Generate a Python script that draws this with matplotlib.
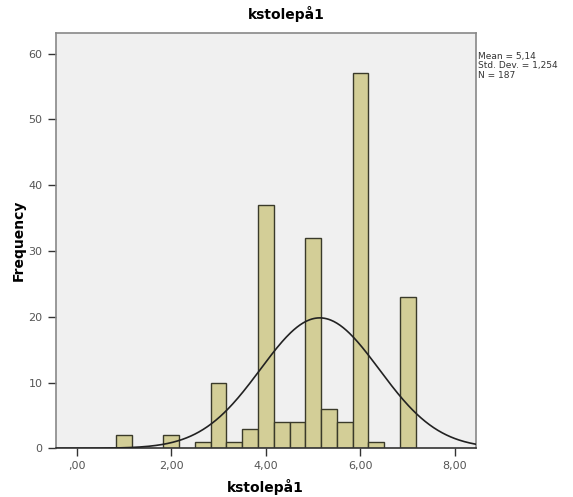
import numpy as np
import matplotlib
matplotlib.use("Agg")
import matplotlib.pyplot as plt

# histogram of kstolepå1 (bin width 1/3)
bin_centers = [1.0, 2.0, 2.6667, 3.0, 3.3333, 3.6667, 4.0, 4.3333, 4.6667,
               5.0, 5.3333, 5.6667, 6.0, 6.3333, 7.0]
counts = [2, 2, 1, 10, 1, 3, 37, 4, 4, 32, 6, 4, 57, 1, 23]
bin_width = 1 / 3
mean, sd, n = 5.14, 1.254, 187
xticks = [0, 2, 4, 6, 8]
xtick_labels = [",00", "2,00", "4,00", "6,00", "8,00"]
yticks = [0, 10, 20, 30, 40, 50, 60]

fig = plt.figure(figsize=(5.73, 4.97), dpi=100)
W, H = 573, 497
ax = fig.add_axes([55.7 / W, 1 - 448.3 / H, (475.7 - 55.7) / W, (448.3 - 33.3) / H])
ax.set_facecolor("#f0f0f0")

ax.bar(bin_centers, counts, width=bin_width, color="#d3ce97",
       edgecolor="#3a3a2a", linewidth=1.0, zorder=2)

xs = np.linspace(-0.44, 8.44, 400)
pdf = n * bin_width / (sd * np.sqrt(2 * np.pi)) * np.exp(-0.5 * ((xs - mean) / sd) ** 2)
ax.plot(xs, pdf, color="#222222", linewidth=1.2, zorder=3)

ax.set_xlim(-0.444, 8.437)
ax.set_ylim(0, 63.1)
ax.set_xticks(xticks)
ax.set_xticklabels(xtick_labels)
ax.set_yticks(yticks)
ax.tick_params(axis="both", direction="out", length=6, width=1, colors="#333333",
               labelcolor="#555555", labelsize=8)
for side in ["top", "right", "left"]:
    ax.spines[side].set_color("#888888")
    ax.spines[side].set_linewidth(1.2)
ax.spines["bottom"].set_color("#333333")
ax.spines["bottom"].set_linewidth(1.2)

fig.text(265 / W, 1 - 487 / H, "kstolepå1", ha="center", va="center",
         fontsize=10, fontweight="bold")
fig.text(19 / W, 1 - 240 / H, "Frequency", ha="center", va="center",
         rotation=90, fontsize=10, fontweight="bold")
fig.text(0.5, 1 - 14 / H, "kstolepå1", ha="center", va="center",
         fontsize=10, fontweight="bold")
fig.text(478 / W, 1 - 52 / H, "Mean = 5,14\nStd. Dev. = 1,254\nN = 187",
         ha="left", va="top", fontsize=6.5, color="#333333", linespacing=1.05)

fig.savefig("out.png", dpi=100)
